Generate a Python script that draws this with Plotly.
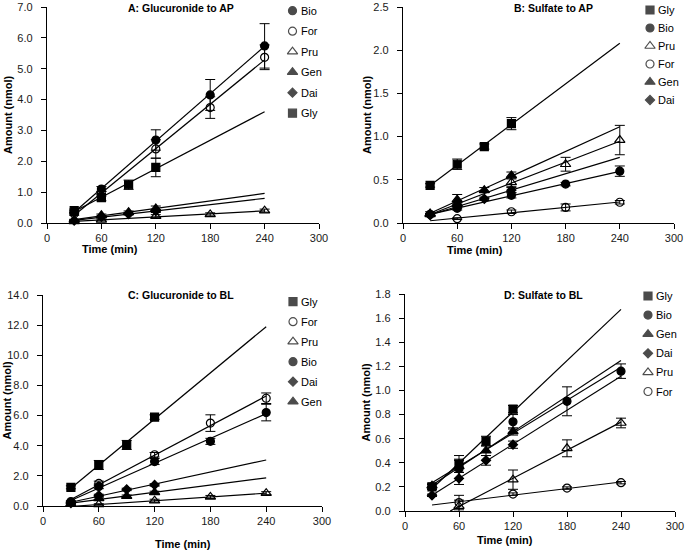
import numpy as np
import plotly.graph_objects as go

W, H = 685, 552

# sampling times (min)
time = [30, 60, 90, 120, 180, 240]
x_ticks = [0, 60, 120, 180, 240, 300]

# A: Glucuronide to AP
a_bio = [0.35, 1.10, None, 2.69, 4.15, 5.74]
a_bio_sd = [0.05, 0.08, None, 0.33, 0.50, 0.72]
a_for = [0.30, 0.95, None, 2.40, 3.74, 5.37]
a_for_sd = [0.05, 0.08, None, 0.30, 0.35, 0.40]
a_pru = [0.05, 0.10, None, 0.22, 0.28, 0.40]
a_pru_sd = [0.02, 0.03, None, 0.05, 0.05, 0.05]
a_gen = [0.10, 0.25, 0.35, 0.47, None, None]
a_gen_sd = [0.02, 0.04, 0.04, 0.08, None, None]
a_dai = [0.08, 0.20, 0.29, 0.39, None, None]
a_dai_sd = [0.02, 0.03, 0.03, 0.05, None, None]
a_gly = [0.40, 0.82, 1.24, 1.80, None, None]
a_gly_sd = [0.05, 0.10, 0.15, 0.30, None, None]

# B: Sulfate to AP
b_gly = [0.435, 0.68, 0.885, 1.15, None, None]
b_gly_sd = [0.02, 0.06, 0.03, 0.07, None, None]
b_bio = [0.10, 0.17, None, 0.32, 0.45, 0.60]
b_bio_sd = [0.01, 0.02, None, 0.03, 0.02, 0.06]
b_pru = [0.10, 0.22, None, 0.47, 0.68, 0.96]
b_pru_sd = [0.01, 0.03, None, 0.05, 0.08, 0.17]
b_for = [None, 0.05, None, 0.13, 0.18, 0.24]
b_for_sd = [None, 0.01, None, 0.02, 0.04, 0.02]
b_gen = [0.11, 0.27, 0.38, 0.55, None, None]
b_gen_sd = [0.02, 0.06, 0.03, 0.04, None, None]
b_dai = [0.09, 0.20, 0.28, 0.38, None, None]
b_dai_sd = [0.01, 0.03, 0.02, 0.03, None, None]

# C: Glucuronide to BL
c_gly = [1.24, 2.72, 4.05, 5.90, None, None]
c_gly_sd = [0.10, 0.30, 0.30, 0.15, None, None]
c_for = [0.30, 1.50, None, 3.40, 5.50, 7.15]
c_for_sd = [0.05, 0.15, None, 0.15, 0.55, 0.35]
c_pru = [None, 0.10, None, 0.35, 0.60, 0.85]
c_pru_sd = [None, 0.05, None, 0.10, 0.10, 0.10]
c_bio = [0.25, 1.30, None, 2.95, 4.29, 6.20]
c_bio_sd = [0.05, 0.15, None, 0.20, 0.20, 0.55]
c_dai = [0.20, 0.70, 1.10, 1.40, None, None]
c_dai_sd = [0.03, 0.08, 0.08, 0.08, None, None]
c_gen = [0.15, 0.50, 0.65, 0.90, None, None]
c_gen_sd = [0.03, 0.08, 0.08, 0.08, None, None]

# D: Sulfate to BL
d_gly = [0.20, 0.39, 0.58, 0.845, None, None]
d_gly_sd = [0.02, 0.07, 0.04, 0.03, None, None]
d_bio = [0.20, 0.35, None, 0.74, 0.91, 1.16]
d_bio_sd = [0.02, 0.08, None, 0.06, 0.12, 0.06]
d_gen = [0.21, 0.37, 0.50, 0.66, None, None]
d_gen_sd = [0.02, 0.05, 0.04, 0.03, None, None]
d_dai = [0.13, 0.27, 0.42, 0.55, None, None]
d_dai_sd = [0.01, 0.05, 0.04, 0.03, None, None]
d_pru = [None, 0.04, None, 0.26, 0.52, 0.73]
d_pru_sd = [None, 0.05, None, 0.08, 0.07, 0.04]
d_for = [None, 0.07, None, 0.14, 0.19, 0.235]
d_for_sd = [None, 0.06, None, 0.01, 0.01, 0.01]

symbols = {"Bio": "circle", "For": "circle-open", "Pru": "triangle-up-open",
           "Gen": "triangle-up", "Dai": "diamond", "Gly": "square"}
sizes = {"Bio": 8, "For": 8, "Pru": 9, "Gen": 9, "Dai": 7, "Gly": 8}

# panel layout in pixels: plot box (left, right, top, bottom), legend (marker x, first y, step)
panels = [
    dict(title="A: Glucuronide to AP", box=(47, 319, 7, 223), yr=7, dtick=1,
         title_xy=(181, 8), ytitle_x=8, xtitle_xy=(110, 249),
         legend=(292.5, 10.7, 20.5),
         series=[("Bio", a_bio, a_bio_sd), ("For", a_for, a_for_sd), ("Pru", a_pru, a_pru_sd),
                 ("Gen", a_gen, a_gen_sd), ("Dai", a_dai, a_dai_sd), ("Gly", a_gly, a_gly_sd)]),
    dict(title="B: Sulfate to AP", box=(403, 674, 7, 223), yr=2.5, dtick=0.5,
         title_xy=(553, 8), ytitle_x=367, xtitle_xy=(475, 250),
         legend=(650, 10, 18),
         series=[("Gly", b_gly, b_gly_sd), ("Bio", b_bio, b_bio_sd), ("Pru", b_pru, b_pru_sd),
                 ("For", b_for, b_for_sd), ("Gen", b_gen, b_gen_sd), ("Dai", b_dai, b_dai_sd)]),
    dict(title="C: Glucuronide to BL", box=(43, 322, 295, 506), yr=14, dtick=2,
         title_xy=(181, 295), ytitle_x=6, xtitle_xy=(183, 544),
         legend=(293, 301.7, 20),
         series=[("Gly", c_gly, c_gly_sd), ("For", c_for, c_for_sd), ("Pru", c_pru, c_pru_sd),
                 ("Bio", c_bio, c_bio_sd), ("Dai", c_dai, c_dai_sd), ("Gen", c_gen, c_gen_sd)]),
    dict(title="D: Sulfate to BL", box=(405, 675, 294, 511), yr=1.8, dtick=0.2,
         title_xy=(543, 295), ytitle_x=365, xtitle_xy=(505, 540),
         legend=(648, 296, 19.1),
         series=[("Gly", d_gly, d_gly_sd), ("Bio", d_bio, d_bio_sd), ("Gen", d_gen, d_gen_sd),
                 ("Dai", d_dai, d_dai_sd), ("Pru", d_pru, d_pru_sd), ("For", d_for, d_for_sd)]),
]

FONT = "Liberation Sans, Arial, sans-serif"
fig = go.Figure()
annotations = []
layout = {}

for i, p in enumerate(panels, start=1):
    xa, ya = f"x{i}", f"y{i}"
    left, right, top, bottom = p["box"]
    axis_style = dict(showline=True, linecolor="black", linewidth=1.3, ticks="outside",
                      ticklen=5, tickwidth=1.3, tickcolor="black", showgrid=False,
                      zeroline=False, automargin=False, ticklabeloverflow="allow",
                      tickfont=dict(family=FONT, size=11, color="#1a1a1a"))
    layout[f"xaxis{i}"] = dict(domain=[left / W, right / W], range=[0, 300], tickvals=x_ticks,
                               anchor=ya, **axis_style)
    layout[f"yaxis{i}"] = dict(domain=[1 - bottom / H, 1 - top / H], range=[0, p["yr"]],
                               dtick=p["dtick"], tick0=0, tickformat=".1f", anchor=xa,
                               ticklabelstandoff=6, **axis_style)

    for name, vals, sd in p["series"]:
        # regression line over the sampled time span, clipped at zero
        pts = [(t, v) for t, v in zip(time, vals) if v is not None]
        tx = np.array([q[0] for q in pts], float)
        ty = np.array([q[1] for q in pts], float)
        m, b = np.polyfit(tx, ty, 1)
        x0 = time[0]
        if m * x0 + b < 0:
            x0 = -b / m
        lx = np.array([x0, time[-1]])
        fig.add_trace(go.Scatter(x=lx, y=m * lx + b, mode="lines", xaxis=xa, yaxis=ya,
                                 line=dict(color="black", width=1.2), showlegend=False,
                                 hoverinfo="skip"))
        fig.add_trace(go.Scatter(
            x=time, y=vals, mode="markers", name=name, xaxis=xa, yaxis=ya, showlegend=False,
            marker=dict(symbol=symbols[name], size=sizes[name], color="black",
                        line=dict(color="black", width=1.2)),
            error_y=dict(type="data", array=sd, visible=True, color="black",
                         thickness=1, width=5),
            cliponaxis=False))

    # legend drawn in pixel space
    mx, y0, step = p["legend"]
    names = [s[0] for s in p["series"]]
    ly = [y0 + k * step for k in range(len(names))]
    fig.add_trace(go.Scatter(
        x=[mx] * len(names), y=ly, mode="markers", xaxis="x5", yaxis="y5", showlegend=False,
        marker=dict(symbol=[symbols[n] for n in names], size=[sizes[n] for n in names],
                    color="black", line=dict(color="black", width=1.2)),
        hoverinfo="skip", cliponaxis=False))
    for n, yy in zip(names, ly):
        annotations.append(dict(x=mx + 6, y=yy, xref="x5", yref="y5", text=n, showarrow=False,
                                xanchor="left", yanchor="middle",
                                font=dict(family=FONT, size=11, color="black")))

    tx_, ty_ = p["title_xy"]
    annotations.append(dict(x=tx_, y=ty_, xref="x5", yref="y5", text="<b>%s</b>" % p["title"],
                            showarrow=False, xanchor="center", yanchor="middle",
                            font=dict(family=FONT, size=10.5, color="black")))
    annotations.append(dict(x=p["ytitle_x"], y=(top + bottom) / 2, xref="x5", yref="y5",
                            text="<b>Amount (nmol)</b>", textangle=-90, showarrow=False,
                            xanchor="center", yanchor="middle",
                            font=dict(family=FONT, size=11, color="black")))
    xx, xy = p["xtitle_xy"]
    annotations.append(dict(x=xx, y=xy, xref="x5", yref="y5", text="<b>Time (min)</b>",
                            showarrow=False, xanchor="center", yanchor="middle",
                            font=dict(family=FONT, size=11, color="black")))

layout["xaxis5"] = dict(domain=[0, 1], range=[0, W], visible=False, fixedrange=True,
                        anchor="y5", automargin=False)
layout["yaxis5"] = dict(domain=[0, 1], range=[H, 0], visible=False, fixedrange=True,
                        anchor="x5", automargin=False)

fig.update_layout(
    width=W, height=H,
    margin=dict(l=0, r=0, t=0, b=0, pad=0, autoexpand=False),
    paper_bgcolor="white", plot_bgcolor="rgba(0,0,0,0)",
    showlegend=False,
    annotations=annotations,
    font=dict(family=FONT),
    **layout,
)

# page body margin would shift the 685x552 figure inside the window
fig.write_html("out.html", config={"displayModeBar": False},
               post_script="document.body.style.margin='0px';")
